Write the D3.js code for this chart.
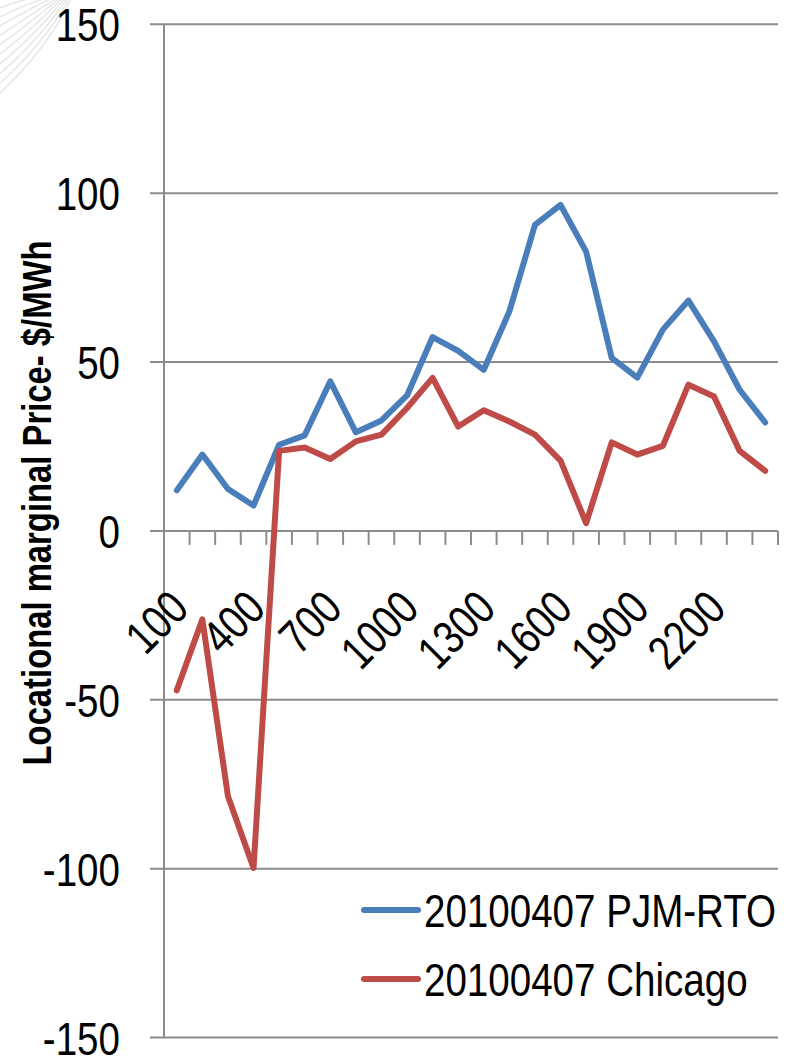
<!DOCTYPE html>
<html>
<head>
<meta charset="utf-8">
<script src="https://cdn.jsdelivr.net/npm/d3@7"></script>
<style>
  body { margin: 0; background: #fff; }
  svg { display: block; }
  .lbl { font-family: "Liberation Sans", Arial, sans-serif; }
</style>
</head>
<body>
<div id="chart"></div>
<script>
// hours of the day (hour ending)
var hours = ["100","200","300","400","500","600","700","800","900","1000","1100","1200",
	"1300","1400","1500","1600","1700","1800","1900","2000","2100","2200","2300","2400"];
var shownHours = ["100","400","700","1000","1300","1600","1900","2200"];
var pjmRto = [12.0, 22.6, 12.4, 7.5, 25.5, 28.3, 44.3, 29.2, 32.7, 40.1, 57.4, 53.3,
	47.7, 65.0, 90.6, 96.5, 82.7, 51.2, 45.4, 59.6, 68.2, 56.1, 41.8, 32.1];
var chicago = [-47.2, -26.2, -78.6, -99.8, 23.7, 24.7, 21.3, 26.5, 28.5, 36.4, 45.3, 30.9,
	35.7, 32.4, 28.5, 20.8, 2.3, 26.2, 22.6, 25.2, 43.3, 39.8, 23.7, 17.8];
var yTicks = [-150, -100, -50, 0, 50, 100, 150];
var seriesNames = ["20100407 PJM-RTO", "20100407 Chicago"];
var seriesColors = ["#4a7ebb", "#be4b48"];

var W = 800, H = 1059;
var plotLeft = 164, plotRight = 778, plotTop = 24.3, plotBottom = 1037.5;
var squeeze = 0.82; // the original uses a narrow face

var svg = d3.select("#chart").append("svg")
	.attr("width", W)
	.attr("height", H);

// squeeze text horizontally to mimic a narrow font
function narrow(sel) {
	sel.each(function() {
		var len = this.getComputedTextLength();
		d3.select(this)
			.attr("textLength", len * squeeze)
			.attr("lengthAdjust", "spacingAndGlyphs");
	});
}

// faint template swoosh in the top-left corner
var deco = svg.append("g").attr("fill", "none").attr("stroke", "#e6e6e6").attr("stroke-width", 1.5);
for (var i = 0; i < 10; i++) {
	var p = d3.path();
	p.moveTo(-10, 12 + i * 10);
	p.quadraticCurveTo(20 + i * 3, -2 + i * 6, 55 + i * 2, -5);
	deco.append("path").attr("d", p.toString());
}

var x = d3.scaleBand()
	.domain(hours)
	.range([plotLeft, plotRight])
	.padding(0);
var y = d3.scaleLinear()
	.domain([-150, 150])
	.range([plotBottom, plotTop]);

// horizontal gridlines with outer tick
svg.append("g").selectAll("line")
	.data(yTicks)
	.enter()
	.append("line")
	.attr("x1", plotLeft - 14)
	.attr("x2", plotRight)
	.attr("y1", function(d) { return y(d); })
	.attr("y2", function(d) { return y(d); })
	.attr("stroke", "#8c8c8c")
	.attr("stroke-width", 2);

// vertical axis line
svg.append("line")
	.attr("x1", plotLeft).attr("x2", plotLeft)
	.attr("y1", y(150)).attr("y2", y(-150))
	.attr("stroke", "#8c8c8c")
	.attr("stroke-width", 2);

// category ticks below the zero line
var edges = hours.map(function(h) { return x(h); }).concat([plotRight]);
svg.append("g").selectAll("line")
	.data(edges.slice(1))
	.enter()
	.append("line")
	.attr("x1", function(d) { return d; })
	.attr("x2", function(d) { return d; })
	.attr("y1", y(0))
	.attr("y2", y(0) + 14)
	.attr("stroke", "#8c8c8c")
	.attr("stroke-width", 2);

// y tick labels
svg.append("g").selectAll("text")
	.data(yTicks)
	.enter()
	.append("text")
	.attr("class", "lbl")
	.attr("x", 120)
	.attr("y", function(d) { return y(d) + 17; })
	.attr("text-anchor", "end")
	.attr("font-size", 47)
	.attr("fill", "#000")
	.text(function(d) { return d; })
	.call(narrow);

// x tick labels, rotated
svg.append("g").selectAll("text")
	.data(shownHours)
	.enter()
	.append("text")
	.attr("class", "lbl")
	.attr("text-anchor", "end")
	.attr("font-size", 47)
	.attr("fill", "#000")
	.attr("transform", function(d) {
		var cx = x(d) + x.bandwidth() / 2 + 14;
		return "translate(" + cx + "," + (y(0) + 80) + ") rotate(-45)";
	})
	.text(function(d) { return d; })
	.call(narrow);

// y axis title
svg.append("text")
	.attr("class", "lbl")
	.attr("transform", "translate(51," + 503 + ") rotate(-90)")
	.attr("text-anchor", "middle")
	.attr("font-size", 40)
	.attr("font-weight", "bold")
	.attr("fill", "#000")
	.text("Locational marginal Price- $/MWh")
	.call(narrow);

var line = d3.line()
	.x(function(d, i) { return x(hours[i]) + x.bandwidth() / 2; })
	.y(function(d) { return y(d); });

[pjmRto, chicago].forEach(function(vals, k) {
	svg.append("path")
		.datum(vals)
		.attr("d", line)
		.attr("fill", "none")
		.attr("stroke", seriesColors[k])
		.attr("stroke-width", 6)
		.attr("stroke-linejoin", "round")
		.attr("stroke-linecap", "round");
});

// legend
var legend = svg.append("g");
seriesNames.forEach(function(name, k) {
	var ly = 910 + k * 69;
	legend.append("line")
		.attr("x1", 364).attr("x2", 418)
		.attr("y1", ly).attr("y2", ly)
		.attr("stroke", seriesColors[k])
		.attr("stroke-width", 6)
		.attr("stroke-linecap", "round");
	legend.append("text")
		.attr("class", "lbl")
		.attr("x", 424)
		.attr("y", ly + 17)
		.attr("font-size", 47)
		.attr("fill", "#000")
		.text(name)
		.call(narrow);
});
</script>
</body>
</html>
